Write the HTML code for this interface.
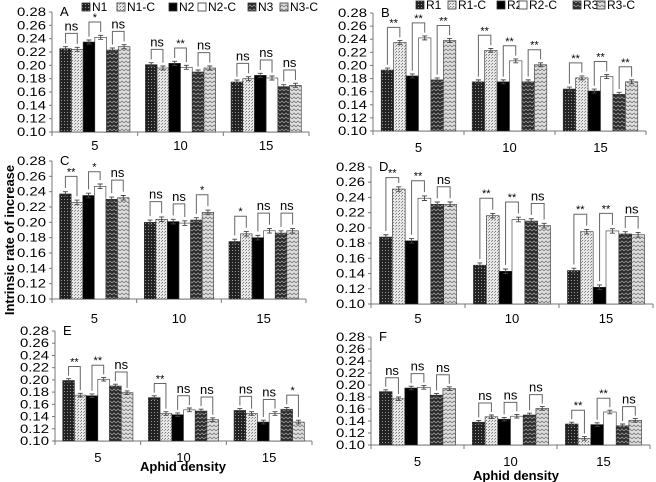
<!DOCTYPE html>
<html><head><meta charset="utf-8"><style>
body{margin:0;background:#fff}
svg{display:block;font-family:"Liberation Sans",Arial,sans-serif}
</style></head><body>
<svg id="chart" width="656" height="482" viewBox="0 0 656 482" xmlns="http://www.w3.org/2000/svg">
<defs>
<pattern id="p1" width="3" height="3" patternUnits="userSpaceOnUse"><rect width="3" height="3" fill="#222"/><rect x="1" y="1" width="1" height="1" fill="#999"/></pattern>
<pattern id="p2" width="3" height="3" patternUnits="userSpaceOnUse"><rect width="3" height="3" fill="#e8e8e8"/><rect x="0" y="0" width="1" height="1" fill="#777"/><rect x="2" y="1" width="1" height="1" fill="#999"/></pattern>
<pattern id="p3" width="4" height="4" patternUnits="userSpaceOnUse"><rect width="4" height="4" fill="#2a2a2a"/><path d="M0 3 L2 1 L4 3" stroke="#999" stroke-width="0.8" fill="none"/></pattern>
<pattern id="p4" width="4" height="4" patternUnits="userSpaceOnUse"><rect width="4" height="4" fill="#e0e0e0"/><path d="M0 3 L2 1 L4 3" stroke="#777" stroke-width="0.8" fill="none"/></pattern>
</defs>
</svg>
<script>
const yTicks = [0.10,0.12,0.14,0.16,0.18,0.20,0.22,0.24,0.26,0.28];
const categories = ["5","10","15"];
const legendN = ["N1","N1-C","N2","N2-C","N3","N3-C"];
const legendR = ["R1","R1-C","R2","R2-C","R3","R3-C"];
const valuesA = [[.225,.224,.235,.242,.223,.228],[.201,.196,.203,.197,.190,.196],[.175,.180,.185,.181,.168,.170]];
const valuesB = [[.193,.235,.184,.242,.178,.238],[.175,.223,.175,.207,.175,.201],[.164,.181,.161,.183,.156,.175]];
const valuesC = [[.237,.226,.235,.247,.230,.232],[.200,.204,.201,.199,.203,.213],[.175,.185,.180,.189,.186,.189]];
const valuesD = [[.188,.251,.183,.239,.231,.231],[.151,.216,.143,.211,.209,.203],[.144,.195,.122,.196,.192,.191]];
const valuesE = [[.199,.175,.174,.201,.190,.179],[.171,.145,.143,.151,.149,.135],[.150,.145,.131,.145,.152,.131]];
const valuesF = [[.189,.177,.195,.196,.183,.194],[.138,.147,.143,.148,.150,.161],[.135,.111,.134,.155,.132,.141]];
const sigA = [["ns","*","ns"],["ns","**","ns"],["ns","ns","ns"]];
const sigB = [["**","**","**"],["**","**","**"],["**","**","**"]];
const sigC = [["**","*","ns"],["ns","ns","*"],["*","ns","ns"]];
const sigD = [["**","**","ns"],["**","**","ns"],["**","**","ns"]];
const sigE = [["**","**","ns"],["**","ns","ns"],["ns","ns","*"]];
const sigF = [["ns","ns","ns"],["ns","ns","ns"],["**","**","ns"]];
const errBar = 0.003;
const fills = ["url(#p1)","url(#p2)","#000","#fff","url(#p3)","url(#p4)"];
const svg = document.getElementById('chart');
const NS = "http://www.w3.org/2000/svg";
function mk(tag, attrs, parent){const e=document.createElementNS(NS,tag);for(const k in attrs)e.setAttribute(k,attrs[k]);(parent||svg).appendChild(e);return e;}

function panel(id, letter, vals, sigs, ax){
  const g = mk('g',{});
  
  
  const y = v => ax.bottom - (v-0.10)/(0.18)*(ax.bottom-ax.top);
  const step = (ax.right-ax.x)/categories.length;
  const x = (ci,bi) => ax.x + ci*step + step*0.09 + bi*(step*0.82/6);
  const bw = step*0.82/6;
  const yl = mk('line',{x1:ax.x,y1:ax.top,x2:ax.x,y2:ax.bottom,stroke:'#777','stroke-width':1},g);
   
  yTicks.forEach(t=>{
    mk('line',{x1:ax.x-3,y1:y(t),x2:ax.x,y2:y(t),stroke:'#777'},g);
    const tx=mk('text',{x:ax.x-35,y:y(t)+4,'font-size':12,textLength:29,lengthAdjust:'spacingAndGlyphs',fill:'#000'},g);
    tx.textContent=t.toFixed(2);
     
  });
  const xl = mk('line',{x1:ax.x,y1:ax.bottom,x2:ax.right,y2:ax.bottom,stroke:'#777'},g);
   
  for(let i=0;i<=categories.length;i++) mk('line',{x1:ax.x+i*step,y1:ax.bottom,x2:ax.x+i*step,y2:ax.bottom+4,stroke:'#777'},g);
  categories.forEach((c,ci)=>{
    const t=mk('text',{x:ax.x+(ci+0.5)*step,y:ax.labelY,'text-anchor':'middle','font-size':13},g);
    t.textContent=c;
     
    vals[ci].forEach((v,bi)=>{
      const r=mk('rect',{x:x(ci,bi),y:y(v),width:bw,height:ax.bottom-y(v),fill:fills[bi],stroke:'#333','stroke-width':0.6},g);
      
      
      const cx=x(ci,bi)+bw/2;
      mk('path',{d:`M${cx} ${y(v+errBar)}V${y(v-errBar)}M${cx-2.5} ${y(v+errBar)}H${cx+2.5}M${cx-2.5} ${y(v-errBar)}H${cx+2.5}`,stroke:'#444','stroke-width':0.9,fill:'none'},g);
    });
    for(let p=0;p<3;p++){
      const a=vals[ci][2*p], b=vals[ci][2*p+1];
      const top=Math.min(Math.max(a,b)+0.023,0.266);
      const x1=x(ci,2*p)+bw/2, x2=x(ci,2*p+1)+bw/2;
      const br=mk('path',{d:`M${x1} ${y(a+0.008)}V${y(top)}H${x2}V${y(b+0.008)}`,stroke:'#666','stroke-width':1,fill:'none'},g);
       
      const s=sigs[ci][p];
      const st=mk('text',{x:(x1+x2)/2,y:y(top)-(s==='ns'?3:1),'text-anchor':'middle','font-size':s==='ns'?13:11},g);
      st.textContent=s;
       
    }
  });
  const pl=mk('text',{x:ax.x+8,y:ax.top+4,'font-size':13},g);
  pl.textContent=letter;
   
}
panel('a','A',valuesA,sigA,{x:52,top:12,bottom:132,right:309,labelY:150});
panel('b','B',valuesB,sigB,{x:373,top:13,bottom:131,right:646,labelY:152});
panel('c','C',valuesC,sigC,{x:52,top:161,bottom:299,right:306,labelY:323});
panel('d','D',valuesD,sigD,{x:371,top:167,bottom:304,right:653,labelY:323});
panel('e','E',valuesE,sigE,{x:55,top:331,bottom:441,right:312,labelY:462});
panel('f','F',valuesF,sigF,{x:371,top:337,bottom:445,right:650,labelY:466});

function legend(names, xs, yy){
  names.forEach((n,i)=>{
    const r=mk('rect',{x:xs[i],y:yy-8,width:8,height:8,fill:fills[i],stroke:'#333','stroke-width':0.8});
    
    
    const t=mk('text',{x:xs[i]+10,y:yy,'font-size':12});
    t.textContent=n;
    
    
  });
}
legend(legendN,[82,117,169,198,248,280],11);
legend(legendR,[416,448,497,519,573,597],9);

const yt=mk('text',{x:0,y:0,transform:'translate(14,240) rotate(-90)','text-anchor':'middle','font-size':13,'font-weight':'bold'});
yt.textContent='Intrinsic rate of increase';
 
const x1=mk('text',{x:183,y:471,'text-anchor':'middle','font-size':13,'font-weight':'bold'});
x1.textContent='Aphid density';
 
const x2=mk('text',{x:516,y:480,'text-anchor':'middle','font-size':13,'font-weight':'bold'});
x2.textContent='Aphid density';
 
</script>
</body></html>
